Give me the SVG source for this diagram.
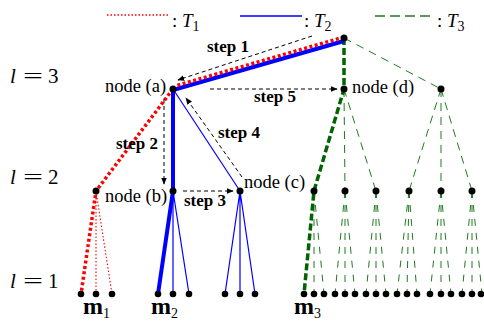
<svg xmlns="http://www.w3.org/2000/svg" width="484" height="322" viewBox="0 0 484 322">
<defs>
<marker id="ah" viewBox="0 0 10 10" refX="9" refY="5" markerWidth="7" markerHeight="7" markerUnits="userSpaceOnUse" orient="auto">
<path d="M0,1 L10,5 L0,9 Z" fill="#000"/>
</marker>
</defs>
<style>
text{font-family:"Liberation Serif","Times New Roman",serif;fill:#000}
.lbl{font-size:18.5px}
.step{font-size:17px;font-weight:bold}
.lev{font-size:21px}
.m{font-size:24px;font-weight:bold}
.sub{font-size:14px;font-weight:normal}
.leg{font-size:19px}
.r1{stroke:#ff0000;stroke-width:3.5;stroke-dasharray:3 2.5;fill:none}
.r0{stroke:#ff0000;stroke-width:1.1;stroke-dasharray:1.5 2;fill:none}
.b1{stroke:#0000ff;stroke-width:4;fill:none}
.b0{stroke:#0000ff;stroke-width:1.2;fill:none}
.g1{stroke:#006400;stroke-width:3.5;stroke-dasharray:7 3;fill:none}
.g0{stroke:#1f7a1f;stroke-width:1;stroke-dasharray:8 6;fill:none}
.gl{stroke:#1f7a1f;stroke-width:1;stroke-dasharray:7 7;fill:none}
.ar{stroke:#000;stroke-width:1;stroke-dasharray:4 3;fill:none;marker-end:url(#ah)}
.n{fill:#000}
</style>
<rect width="484" height="322" fill="#fff"/>

<g id="legend">
<line x1="107" y1="15" x2="170" y2="15" class="r0" style="stroke-width:1.3"/>
<text class="leg" x="172" y="26.5">: <tspan font-style="italic">T</tspan><tspan class="sub" dy="4">1</tspan></text>
<line x1="240" y1="16" x2="302" y2="16" class="b0" style="stroke-width:1.5"/>
<text class="leg" x="304" y="26.5">: <tspan font-style="italic">T</tspan><tspan class="sub" dy="4">2</tspan></text>
<line x1="375" y1="16" x2="430" y2="16" class="g0" style="stroke-dasharray:10 5;stroke-width:1.3"/>
<text class="leg" x="437" y="26.5">: <tspan font-style="italic">T</tspan><tspan class="sub" dy="4">3</tspan></text>
</g>

<g id="levels">
<text class="lev" x="10" y="83" font-style="italic">l</text>
<text class="lev" x="23" y="83" textLength="20" lengthAdjust="spacingAndGlyphs">=</text>
<text class="lev" x="48" y="83">3</text>
<text class="lev" x="10" y="184" font-style="italic">l</text>
<text class="lev" x="23" y="184" textLength="20" lengthAdjust="spacingAndGlyphs">=</text>
<text class="lev" x="48" y="184">2</text>
<text class="lev" x="10" y="288" font-style="italic">l</text>
<text class="lev" x="23" y="288" textLength="20" lengthAdjust="spacingAndGlyphs">=</text>
<text class="lev" x="48" y="288">1</text>
</g>

<g id="connectors">
<!-- T3 green -->
<line x1="344" y1="38" x2="441" y2="89" class="g0"/>
<line x1="344" y1="89" x2="345" y2="191" class="g0"/>
<line x1="344" y1="89" x2="376" y2="191" class="g0"/>
<line x1="441" y1="89" x2="409" y2="191" class="g0"/>
<line x1="441" y1="89" x2="441" y2="191" class="g0"/>
<line x1="441" y1="89" x2="472" y2="191" class="g0"/>
<path class="gl" d="M314,191 L314,294 M314,191 L324,294 M345,191 L335,294 M345,191 L345,294 M345,191 L355,294 M376,191 L366,294 M376,191 L376,294 M376,191 L386,294 M409,191 L397,294 M409,191 L407,294 M409,191 L417,294 M441,191 L430,294 M441,191 L441,294 M441,191 L451,294 M472,191 L462,294 M472,191 L472,294 M472,191 L482,294"/>
<path class="g1" d="M344,38 L344,89 L314,191 L304,294"/>
<!-- T2 blue -->
<line x1="173" y1="89" x2="240" y2="191" class="b0"/>
<path class="b0" d="M240,191 L225,294 M240,191 L240,294 M240,191 L255,294 M173,191 L173,294 M173,191 L189,294"/>
<path class="b1" d="M344,41 L173,90 L173,191 L158,294"/>
<!-- T1 red -->
<path class="r0" d="M96,191 L96,294 M96,191 L112,294"/>
<path class="r1" d="M344,37 L175,86"/>
<path class="r1" d="M173,89 L96,191 L81,294"/>
<!-- steps -->
<line x1="312" y1="36" x2="178" y2="80" class="ar"/>
<line x1="164" y1="99" x2="164" y2="184" class="ar"/>
<line x1="183" y1="191" x2="233" y2="191" class="ar"/>
<line x1="242" y1="177" x2="186" y2="98" class="ar"/>
<line x1="210" y1="89" x2="337" y2="89" class="ar"/>
</g>

<g id="steps">
<text class="step" x="207" y="52">step 1</text>
<text class="step" x="116" y="149">step 2</text>
<text class="step" x="184" y="206">step 3</text>
<text class="step" x="218" y="138">step 4</text>
<text class="step" x="254" y="102">step 5</text>
</g>

<g id="root"><circle class="n" cx="344" cy="38" r="3.5"/></g>
<g id="node-a"><circle class="n" cx="173" cy="89" r="3.5"/><text class="lbl" x="105" y="92">node (a)</text></g>
<g id="node-d"><circle class="n" cx="344" cy="89" r="3.5"/><text class="lbl" x="352" y="93">node (d)</text></g>
<g id="node-e"><circle class="n" cx="441" cy="89" r="3.5"/></g>
<g id="node-r2"><circle class="n" cx="96" cy="191" r="3.5"/></g>
<g id="node-b"><circle class="n" cx="173" cy="191" r="3.5"/><text class="lbl" x="105" y="202">node (b)</text></g>
<g id="node-c"><circle class="n" cx="240" cy="191" r="3.5"/><text class="lbl" x="244" y="188">node (c)</text></g>
<g id="green-l2">
<circle class="n" cx="314" cy="191" r="3.5"/><circle class="n" cx="345" cy="191" r="3.5"/><circle class="n" cx="376" cy="191" r="3.5"/>
<circle class="n" cx="409" cy="191" r="3.5"/><circle class="n" cx="441" cy="191" r="3.5"/><circle class="n" cx="472" cy="191" r="3.5"/>
</g>
<g id="m1">
<circle class="n" cx="81" cy="294" r="3.3"/><circle class="n" cx="96" cy="294" r="3.3"/><circle class="n" cx="112" cy="294" r="3.3"/>
<text class="m" x="83" y="314">m<tspan class="sub" dy="4">1</tspan></text>
</g>
<g id="m2">
<circle class="n" cx="158" cy="294" r="3.3"/><circle class="n" cx="173" cy="294" r="3.3"/><circle class="n" cx="189" cy="294" r="3.3"/>
<text class="m" x="151" y="314">m<tspan class="sub" dy="4">2</tspan></text>
</g>
<g id="leaves-c">
<circle class="n" cx="225" cy="294" r="3.3"/><circle class="n" cx="240" cy="294" r="3.3"/><circle class="n" cx="255" cy="294" r="3.3"/>
</g>
<g id="m3">
<circle class="n" cx="304" cy="294" r="3.3"/><circle class="n" cx="314" cy="294" r="3.3"/><circle class="n" cx="324" cy="294" r="3.3"/>
<circle class="n" cx="335" cy="294" r="3.3"/><circle class="n" cx="345" cy="294" r="3.3"/><circle class="n" cx="355" cy="294" r="3.3"/>
<circle class="n" cx="366" cy="294" r="3.3"/><circle class="n" cx="376" cy="294" r="3.3"/><circle class="n" cx="386" cy="294" r="3.3"/>
<circle class="n" cx="397" cy="294" r="3.3"/><circle class="n" cx="407" cy="294" r="3.3"/><circle class="n" cx="417" cy="294" r="3.3"/>
<circle class="n" cx="430" cy="294" r="3.3"/><circle class="n" cx="441" cy="294" r="3.3"/><circle class="n" cx="451" cy="294" r="3.3"/>
<circle class="n" cx="462" cy="294" r="3.3"/><circle class="n" cx="472" cy="294" r="3.3"/><circle class="n" cx="481" cy="294" r="3.3"/>
<text class="m" x="294" y="314">m<tspan class="sub" dy="4">3</tspan></text>
</g>
</svg>
